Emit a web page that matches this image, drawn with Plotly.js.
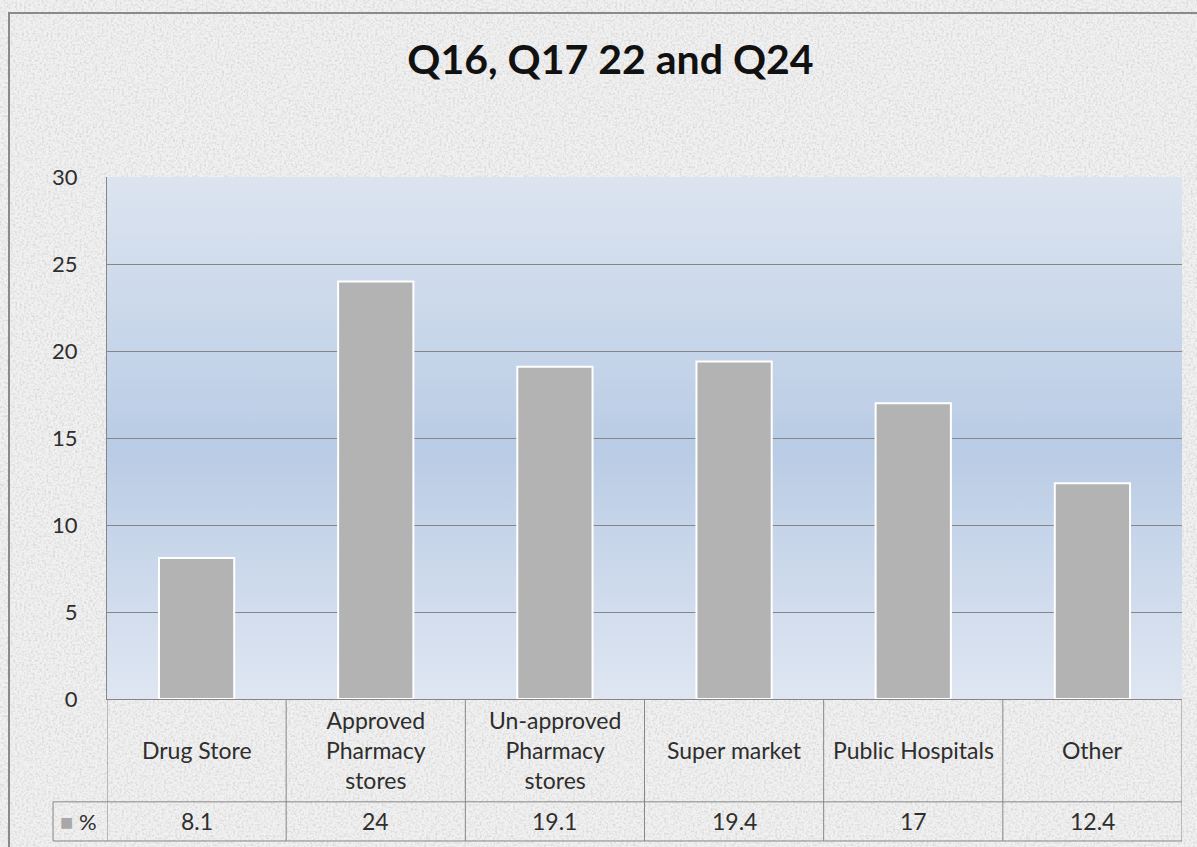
<!DOCTYPE html>
<html>
<head>
<meta charset="utf-8">
<script src="https://cdn.plot.ly/plotly-3.0.1.min.js"></script>
<style>
  html, body { margin: 0; padding: 0; }
  #wrap {
    position: relative; width: 1197px; height: 847px; overflow: hidden;
    background-color: #e6e6e6;
  }
  #frame {
    position: absolute; left: 8px; top: 12px; width: 1220px; height: 850px;
    border: 2px solid #8a8a8a; pointer-events: none; z-index: 2;
  }
  #chart { position: absolute; left: 0; top: 0; width: 1197px; height: 847px; z-index: 1; }
</style>
</head>
<body>
<div id="wrap">
  <div id="chart"></div>
  <div id="frame"></div>
</div>
<script>
// chart data
const categories = ["Drug Store", "Approved Pharmacy stores", "Un-approved Pharmacy stores",
  "Super market", "Public Hospitals", "Other"];
const categoryLabels = ["Drug Store", "Approved<br>Pharmacy<br>stores", "Un-approved<br>Pharmacy<br>stores",
  "Super market", "Public Hospitals", "Other"];
const percentValues = [8.1, 24, 19.1, 19.4, 17, 12.4];
const seriesName = "%";
const yTicks = [0, 5, 10, 15, 20, 25, 30];

// paper texture + plot gradient as inline svg
const noiseSvg = `<svg xmlns='http://www.w3.org/2000/svg' width='300' height='300'>
  <filter id='n'><feTurbulence type='fractalNoise' baseFrequency='0.45' numOctaves='3' seed='4'/>
  <feColorMatrix type='matrix' values='0 0 0 0 0.62  0 0 0 0 0.62  0 0 0 0 0.62  0 0 0 1.7 -0.7'/></filter>
  <rect width='300' height='300' fill='#f1f1f1'/>
  <rect width='300' height='300' filter='url(#n)'/></svg>`;
document.getElementById("wrap").style.backgroundImage =
  "url(\"data:image/svg+xml;utf8," + encodeURIComponent(noiseSvg) + "\")";

const gradSvg = `<svg xmlns='http://www.w3.org/2000/svg' width='10' height='100' preserveAspectRatio='none'>
  <defs><linearGradient id='g' x1='0' y1='0' x2='0' y2='1'>
  <stop offset='0' stop-color='#dce4f0'/><stop offset='0.52' stop-color='#b9cce5'/>
  <stop offset='1' stop-color='#dfe6f2'/></linearGradient></defs>
  <rect width='10' height='100' fill='url(#g)'/></svg>`;
const gradUri = "data:image/svg+xml;base64," + btoa(gradSvg);

const FONT = "Lato, 'Open Sans', sans-serif";
const TXT = "#2e2e2e";
const LINE = "#868686";

// table geometry (paper units below the plot)
const headerBottom = -0.197;
const valueBottom = -0.272;
const legendLeft = -0.0502;

let shapes = [];
// vertical cell borders
for (let i = 0; i <= categories.length; i++) {
  shapes.push({
    type: "line", xref: "x", yref: "paper",
    x0: i - 0.5, x1: i - 0.5, y0: 0, y1: valueBottom,
    line: { color: LINE, width: 1 },
  });
}
shapes.push({ type: "line", xref: "paper", yref: "paper", x0: legendLeft, x1: legendLeft,
  y0: headerBottom, y1: valueBottom, line: { color: LINE, width: 1 } });
[headerBottom, valueBottom].forEach((yy) => {
  shapes.push({ type: "line", xref: "paper", yref: "paper", x0: legendLeft, x1: 1,
    y0: yy, y1: yy, line: { color: LINE, width: 1 } });
});

let annotations = [];
categories.forEach((c, i) => {
  annotations.push({
    xref: "x", yref: "paper", x: i, y: headerBottom / 2,
    text: categoryLabels[i], showarrow: false, yanchor: "middle",
    font: { family: FONT, size: 23, color: TXT },
  });
  annotations.push({
    xref: "x", yref: "paper", x: i, y: (headerBottom + valueBottom) / 2,
    text: String(percentValues[i]), showarrow: false, yanchor: "middle",
    font: { family: FONT, size: 23, color: TXT },
  });
});
// legend key inside the table's first cell
annotations.push({
  xref: "paper", yref: "paper", x: -0.046, y: (headerBottom + valueBottom) / 2,
  xanchor: "left", yanchor: "middle", showarrow: false,
  text: "<span style='color:#a8a8a8'>■</span> " + seriesName,
  font: { family: FONT, size: 22, color: TXT },
});

const trace = {
  type: "bar",
  x: categories.map((c, i) => i),
  y: percentValues,
  name: seriesName,
  marker: { color: "#b3b3b3", line: { color: "#ffffff", width: 2 } },
  hoverinfo: "y",
};

const layout = {
  width: 1197, height: 847,
  margin: { l: 107, r: 15, t: 177, b: 148 },
  paper_bgcolor: "rgba(0,0,0,0)",
  plot_bgcolor: "rgba(0,0,0,0)",
  showlegend: false,
  bargap: 0.58,
  title: {
    text: "<b>Q16, Q17 22 and Q24</b>",
    x: 0.51, xref: "container", y: 0.93, yref: "container", yanchor: "middle",
    font: { family: FONT, size: 41, color: "#111111" },
  },
  xaxis: {
    range: [-0.5, categories.length - 0.5],
    showticklabels: false, ticks: "",
    showgrid: false, zeroline: false,
    showline: true, linecolor: LINE, linewidth: 1,
  },
  yaxis: {
    range: [0, 30], tickvals: yTicks, ticks: "",
    ticklabelstandoff: 24,
    tickfont: { family: FONT, size: 22, color: TXT },
    showgrid: true, gridcolor: LINE, gridwidth: 1,
    zeroline: false,
    showline: true, linecolor: LINE, linewidth: 1,
  },
  images: [{
    source: gradUri, xref: "paper", yref: "paper",
    x: 0, y: 1, sizex: 1, sizey: 1, sizing: "stretch", layer: "below",
  }],
  shapes: shapes,
  annotations: annotations,
};

Plotly.newPlot("chart", [trace], layout, { staticPlot: true });
</script>
</body>
</html>
